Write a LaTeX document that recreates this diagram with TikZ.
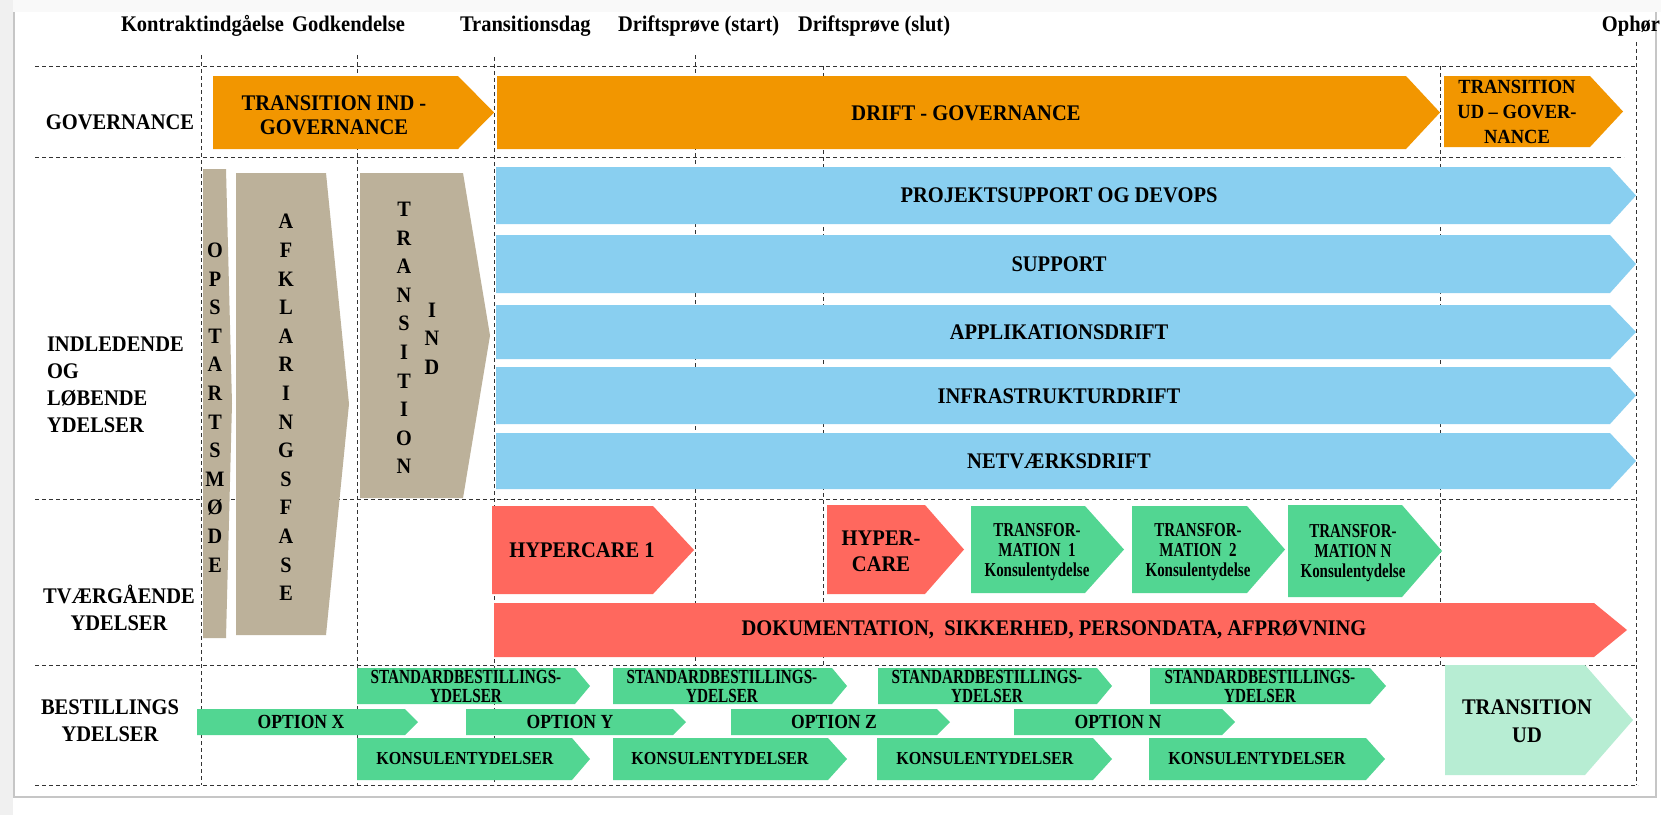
\documentclass[tikz,border=0pt]{standalone}
\usepackage{fontspec}
\setmainfont{Liberation Serif}[FakeStretch=0.92]
\newfontfamily\condB{Liberation Serif}[FakeStretch=0.88]
\newfontfamily\condC{Liberation Serif}[FakeStretch=0.76]
\definecolor{cOr}{RGB}{242,150,0}
\definecolor{cBl}{RGB}{137,207,240}
\definecolor{cTan}{RGB}{188,177,154}
\definecolor{cRd}{RGB}{255,104,94}
\definecolor{cGr}{RGB}{82,214,146}
\definecolor{cLg}{RGB}{183,237,211}
\newcommand\fsz[2]{\fontsize{#1}{#2}\selectfont}
% x left, y top, x shoulder, x tip, y bottom, colour
\newcommand\chevbox[6]{\fill[#6] (#1,#2) -- (#3,#2) -- (#4,{(#2+#5)/2}) -- (#3,#5) -- (#1,#5) -- cycle;}
\begin{document}
\begin{tikzpicture}[x=1pt,y=-1pt,
  every node/.style={inner sep=0pt,outer sep=0pt},
  dl/.style={black!80,line width=0.9pt,dash pattern=on 4pt off 3pt},
  hdr/.style={font=\bfseries\fsz{22.3}{26}},
  lab/.style={font=\bfseries\fsz{22.3}{27},align=center},
  labl/.style={font=\bfseries\fsz{22.3}{27},align=left,anchor=west},
  vert/.style={font=\bfseries\fsz{22}{28.6},align=center},
  sm/.style={font=\condC\bfseries\fsz{19.7}{20},align=center},
  sb/.style={font=\condC\bfseries\fsz{20}{19},align=center},
  opt/.style={font=\condB\bfseries\fsz{20}{20},align=center},
  kon/.style={font=\condB\bfseries\fsz{18.3}{20},align=center}]
\useasboundingbox (0,0) rectangle (1661,815);
\fill[white] (0,0) rectangle (1661,815);
\fill[gray!12] (0,0) rectangle (13,815);
\fill[gray!5] (13,0) rectangle (1661,12);
\draw[gray!45,line width=1.2pt] (14,12) -- (14,797) -- (1656,797) -- (1656,12);

% header labels
\node[hdr,anchor=base west] (hK) at (121,31) {Kontraktindgåelse};
\node[hdr,anchor=base east] (hG) at (405,31) {Godkendelse};
\node[hdr,anchor=base west] (hT) at (460,31) {Transitionsdag};
\node[hdr,anchor=base west] (hDs) at (618,31) {Driftsprøve (start)};
\node[hdr,anchor=base west] (hDe) at (798,31) {Driftsprøve (slut)};
\node[hdr,anchor=base east] (hO) at (1660,31) {Ophør};

% grid
\draw[dl] (35,66) -- (1636,66);
\draw[dl] (35,157) -- (1624,157);
\draw[dl] (35,499) -- (1636,499);
\draw[dl] (35,665) -- (1636,665);
\draw[dl] (35,785) -- (1638,785);
\draw[dl] (201,55) -- (201,785);
\draw[dl] (357,55) -- (357,785);
\draw[dl] (494,57) -- (494,785);
\draw[dl] (695,55) -- (695,665);
\draw[dl] (823,66) -- (823,665);
\draw[dl] (1440,66) -- (1440,665);
\draw[dl] (1636,42) -- (1636,785);

% row labels
\node[lab] (rGov) at (120,122) {GOVERNANCE};
\node[labl] (rInd) at (47,385) {INDLEDENDE\\OG\\LØBENDE\\YDELSER};
\node[lab] (rTv) at (119,608) {TVÆRGÅENDE\\YDELSER};
\node[lab] (rBe) at (110,721) {BESTILLINGS\\YDELSER};

% governance row
\chevbox{213}{76}{458}{494}{149}{cOr}
\node[lab,font=\bfseries\fsz{22.3}{24}] (gTI) at (334,115) {TRANSITION IND -\\GOVERNANCE};
\chevbox{497}{76}{1406}{1440}{149}{cOr}
\node[lab] (gDr) at (966,113) {DRIFT - GOVERNANCE};
\chevbox{1444}{76}{1590}{1623}{147}{cOr}
\node[lab,font=\bfseries\fsz{20.1}{25}] (gTU) at (1517,112) {TRANSITION\\UD – GOVER-\\NANCE};

% tan phases
\chevbox{203}{169}{226}{232}{638}{cTan}
\node[vert] (pOp) at (215,407.5) {O\\P\\S\\T\\A\\R\\T\\S\\M\\Ø\\D\\E};
\chevbox{236}{173}{326}{349}{635}{cTan}
\node[vert] (pAf) at (286,407.5) {A\\F\\K\\L\\A\\R\\I\\N\\G\\S\\F\\A\\S\\E};
\chevbox{360}{173}{463}{490}{498}{cTan}
\node[vert] (pTr) at (404,338) {T\\R\\A\\N\\S\\I\\T\\I\\O\\N};
\node[vert] (pInd) at (432,338.5) {I\\N\\D};

% blue bars
\chevbox{496}{167}{1610}{1636}{224}{cBl}
\node[lab] (b1) at (1059,195) {PROJEKTSUPPORT OG DEVOPS};
\chevbox{496}{235}{1610}{1636}{293}{cBl}
\node[lab] (b2) at (1059,264) {SUPPORT};
\chevbox{496}{305}{1610}{1636}{359}{cBl}
\node[lab] (b3) at (1059,332) {APPLIKATIONSDRIFT};
\chevbox{496}{367}{1610}{1636}{424}{cBl}
\node[lab] (b4) at (1059,396) {INFRASTRUKTURDRIFT};
\chevbox{496}{433}{1610}{1636}{489}{cBl}
\node[lab] (b5) at (1059,461) {NETVÆRKSDRIFT};

% tvaergaaende
\chevbox{492}{506}{653}{694}{594}{cRd}
\node[lab] (h1) at (582,550) {HYPERCARE 1};
\chevbox{827}{505}{925}{964}{594}{cRd}
\node[lab,font=\bfseries\fsz{22.3}{26}] (h2) at (881,551) {HYPER-\\CARE};
\chevbox{971}{506}{1085}{1124}{593}{cGr}
\node[sm] (t1) at (1037,552) {TRANSFOR-\\MATION\ \ 1\\Konsulentydelse};
\chevbox{1132}{506}{1247}{1285}{593}{cGr}
\node[sm] (t2) at (1198,552) {TRANSFOR-\\MATION\ \ 2\\Konsulentydelse};
\chevbox{1288}{505}{1402}{1442}{597}{cGr}
\node[sm] (tN) at (1353,553) {TRANSFOR-\\MATION N\\Konsulentydelse};
\chevbox{494}{603}{1594}{1627}{657}{cRd}
\node[lab] (dok) at (1054,630) {DOKUMENTATION,\ \ SIKKERHED, PERSONDATA, AFPRØVNING};

% bestillings
\chevbox{357}{668}{575}{590}{704}{cGr}
\node[sb] (s1) at (466,686.5) {STANDARDBESTILLINGS-\\YDELSER};
\chevbox{613}{668}{832}{847}{704}{cGr}
\node[sb] (s2) at (722,686.5) {STANDARDBESTILLINGS-\\YDELSER};
\chevbox{878}{668}{1097}{1112}{704}{cGr}
\node[sb] (s3) at (987,686.5) {STANDARDBESTILLINGS-\\YDELSER};
\chevbox{1150}{668}{1370}{1386}{704}{cGr}
\node[sb] (s4) at (1260,686.5) {STANDARDBESTILLINGS-\\YDELSER};

\chevbox{197}{709}{405}{418}{735}{cGr}
\node[opt] (oX) at (301,722) {OPTION X};
\chevbox{466}{709}{673}{686}{735}{cGr}
\node[opt] (oY) at (570,722) {OPTION Y};
\chevbox{731}{709}{937}{950}{735}{cGr}
\node[opt] (oZ) at (834,722) {OPTION Z};
\chevbox{1014}{709}{1222}{1235}{735}{cGr}
\node[opt] (oN) at (1118,722) {OPTION N};

\chevbox{357}{738}{572}{590}{780}{cGr}
\node[kon] (k1) at (465,759) {KONSULENTYDELSER};
\chevbox{613}{738}{828}{847}{780}{cGr}
\node[kon] (k2) at (720,759) {KONSULENTYDELSER};
\chevbox{877}{738}{1093}{1112}{780}{cGr}
\node[kon] (k3) at (985,759) {KONSULENTYDELSER};
\chevbox{1149}{738}{1366}{1385}{780}{cGr}
\node[kon] (k4) at (1257,759) {KONSULENTYDELSER};

\chevbox{1445}{665}{1585}{1633}{775}{cLg}
\node[lab,font=\bfseries\fsz{22.3}{28}] (tUd) at (1527,721) {TRANSITION\\UD};
\end{tikzpicture}
\end{document}
